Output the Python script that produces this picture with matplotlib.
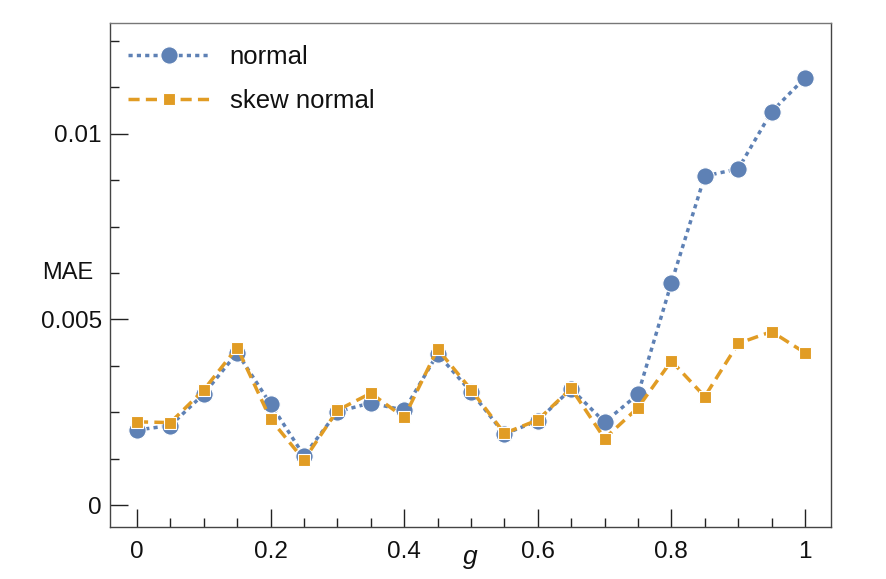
import matplotlib
matplotlib.use("Agg")
import matplotlib.pyplot as plt
import numpy as np

plt.rcParams['font.family'] = ['Liberation Sans', 'DejaVu Sans']
plt.rcParams['lines.scale_dashes'] = False

g = [0.0, 0.05, 0.1, 0.15, 0.2, 0.25, 0.3, 0.35, 0.4, 0.45, 0.5,
     0.55, 0.6, 0.65, 0.7, 0.75, 0.8, 0.85, 0.9, 0.95, 1.0]
normal = [0.00202, 0.00214, 0.00299, 0.00410, 0.00272, 0.00133, 0.00251,
          0.00275, 0.00255, 0.00407, 0.00305, 0.00191, 0.00227, 0.00313,
          0.00223, 0.00298, 0.00598, 0.00886, 0.00905, 0.01059, 0.01150]
skew_normal = [0.00224, 0.00222, 0.00310, 0.00424, 0.00231, 0.00121, 0.00255,
               0.00301, 0.00236, 0.00420, 0.00311, 0.00193, 0.00229, 0.00314,
               0.00179, 0.00262, 0.00388, 0.00292, 0.00435, 0.00467, 0.00410]

x_major = [0, 0.2, 0.4, 0.6, 0.8, 1.0]
x_major_labels = ["0", "0.2", "0.4", "0.6", "0.8", "1"]
y_major = [0, 0.005, 0.01]
y_major_labels = ["0", "0.005", "0.01"]

blue = '#5E81B5'
orange = '#E19C24'

fig = plt.figure(figsize=(8.87, 5.79), dpi=100)
ax = fig.add_axes([110/887, 52/579, 721/887, 504/579])

ax.plot(g, normal, color=blue, lw=2.5, dashes=(3.0, 3.0), marker='o',
        markersize=12.5, markeredgecolor='white', markeredgewidth=0.8,
        label='normal', zorder=3)
ax.plot(g, skew_normal, color=orange, lw=2.5, dashes=(8, 4.5), marker='s',
        markersize=8, markeredgecolor='white', markeredgewidth=0.8,
        label='skew normal', zorder=4)

ax.set_xlim(-0.0404, 1.039)
ax.set_ylim(-0.000592, 0.01298)

ax.set_xticks(x_major)
ax.set_xticklabels(x_major_labels)
ax.set_xticks(np.arange(0, 1.0001, 0.05), minor=True)
ax.set_yticks(y_major)
ax.set_yticklabels(y_major_labels)
ax.set_yticks(np.arange(0, 0.0131, 0.00125), minor=True)

ax.tick_params(which='both', direction='in', top=False, right=False,
               labelsize=17.5, colors='#222222', width=1.0)
ax.tick_params(which='major', length=13)
ax.tick_params(which='minor', length=6.5)
ax.tick_params(axis='x', which='both', pad=10)
ax.tick_params(axis='y', which='both', pad=6)
for lab in ax.get_xticklabels() + ax.get_yticklabels():
    lab.set_color('#111111')

for s in ax.spines.values():
    s.set_color('#444444')
    s.set_linewidth(1.0)
ax.spines['top'].set_color('#777777')

ax.text(-0.065, 0.00625, 'MAE', transform=ax.transData, ha='right',
        va='center', fontsize=17, color='#111111')
ax.text(0.4993, -0.06, 'g', transform=ax.transAxes, ha='center', va='center',
        fontsize=19, style='italic', color='#111111')

leg = ax.legend(loc='upper left', bbox_to_anchor=(0.025, 0.956),
                frameon=False, fontsize=18.5, handlelength=3.2,
                handletextpad=0.75, labelspacing=0.78, borderpad=0,
                borderaxespad=0)
for t in leg.get_texts():
    t.set_color('#111111')

fig.savefig('out.png', dpi=100)
